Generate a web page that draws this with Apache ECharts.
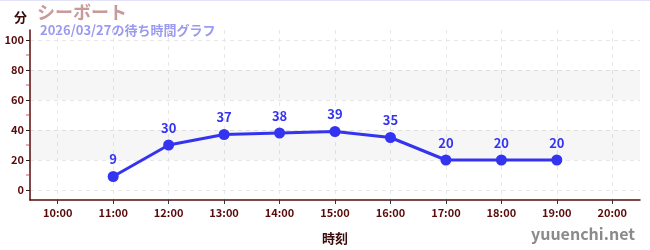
<!DOCTYPE html>
<html><head><meta charset="utf-8">
<script src="https://cdn.jsdelivr.net/npm/echarts@6/dist/echarts.min.js"></script>
<style>html,body{margin:0;padding:0;background:#fff;}#c{width:650px;height:250px;border-top:1px solid #e2e2f8;box-sizing:border-box;}</style>
</head><body><div id="c"></div>
<script>
const categories = ['10:00','11:00','12:00','13:00','14:00','15:00','16:00','17:00','18:00','19:00','20:00'];
const waitTimes = [null, 9, 30, 37, 38, 39, 35, 20, 20, 20, null];
const yTicks = [0, 20, 40, 60, 80, 100];
const yMinorTicks = [10, 30, 50, 70, 90];
const bands = [[20, 40], [60, 80]];
const titleText = 'シーボート';
const subText = '2026/03/27の待ち時間グラフ';

const font = '"Noto Sans CJK JP", "Noto Sans", sans-serif';
const axisColor = '#5a0a0a';
const catIdx = categories.map((c, i) => i);
const chart = echarts.init(document.getElementById('c'), null, {renderer: 'canvas'});
chart.setOption({
  animation: false,
  textStyle: {fontFamily: font},
  grid: {left: 30, right: 10, top: 29, bottom: 50},
  graphic: [
    {type: 'text', left: 14, top: 10, style: {text: '分', font: 'bold 13px ' + font, fill: '#3a0a0a'}},
    {type: 'text', left: 37, top: 2, style: {text: titleText, font: 'bold 18px ' + font, fill: '#c99a9a'}},
    {type: 'text', left: 40, top: 23, style: {text: subText, font: 'bold 13px ' + font, fill: '#9a9af0'}},
    {type: 'text', right: 15, bottom: 8, style: {text: 'yuuenchi.net', font: 'bold 16px ' + font, fill: '#8a8a8a'}}
  ],
  xAxis: {
    type: 'value', min: -0.5, max: categories.length - 0.5,
    name: '時刻', nameLocation: 'middle', nameGap: 32,
    nameTextStyle: {color: '#3a0a0a', fontWeight: 'bold', fontSize: 13, fontFamily: font},
    axisLine: {onZero: false, lineStyle: {color: axisColor, width: 1.5}},
    axisTick: {length: 4, customValues: catIdx, lineStyle: {color: '#333'}},
    axisLabel: {color: axisColor, fontSize: 11, fontWeight: 'bold', margin: 7, fontFamily: font,
      customValues: catIdx, formatter: v => categories[Math.round(v)]},
    splitLine: {show: true, lineStyle: {color: '#e8e8e8', type: [4, 4]}}
  },
  yAxis: {
    type: 'value', min: -20/3, max: 320/3,
    axisLine: {show: true, onZero: false, lineStyle: {color: axisColor, width: 1.5}},
    axisTick: {show: true, length: 4, customValues: yTicks, lineStyle: {color: '#222'}},
    axisLabel: {color: axisColor, fontSize: 11, fontWeight: 'bold', margin: 6, customValues: yTicks, fontFamily: font},
    splitLine: {show: true, lineStyle: {color: '#e8e8e8', type: [4, 4]}}
  },
  series: [
    {
      type: 'line', data: waitTimes.map((v, i) => [i, v]), connectNulls: false,
      symbol: 'circle', symbolSize: 11,
      lineStyle: {color: '#3434f0', width: 3},
      itemStyle: {color: '#3434f0'},
      label: {show: true, position: 'top', distance: 5, color: '#3434f0', fontWeight: 'bold', fontSize: 13, fontFamily: font,
        formatter: p => p.value[1]},
      markArea: {silent: true, itemStyle: {color: 'rgba(0,0,0,0.035)'},
        data: bands.map(b => [{yAxis: b[0]}, {yAxis: b[1]}])},
      z: 5
    },
    {
      type: 'scatter', data: yMinorTicks.map(v => [-0.5, v]), silent: true,
      symbol: 'rect', symbolSize: [4, 1], symbolOffset: [-2, 0], itemStyle: {color: '#e02020'}
    }
  ]
});
</script></body></html>
